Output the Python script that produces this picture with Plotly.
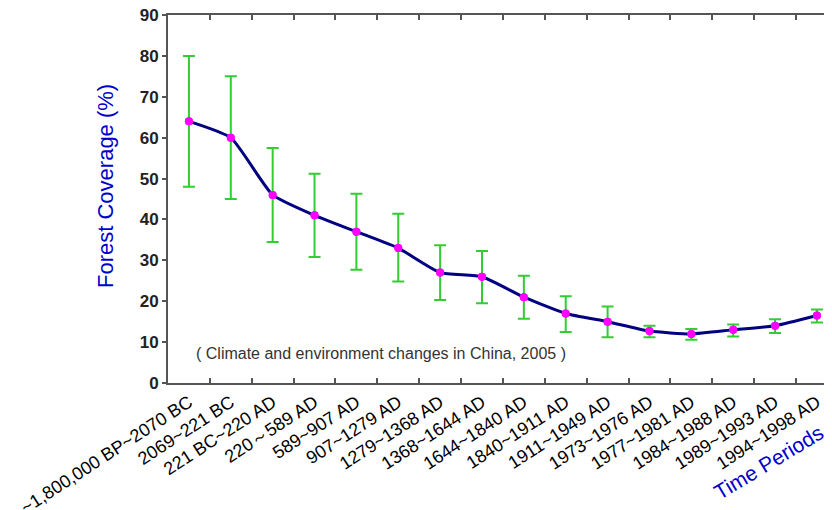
import plotly.graph_objects as go

periods = ["~1,800,000 BP~2070 BC", "2069~221 BC", "221 BC~220 AD", "220～589 AD",
           "589~907 AD", "907~1279 AD", "1279~1368 AD", "1368~1644 AD", "1644~1840 AD",
           "1840~1911 AD", "1911~1949 AD", "1973~1976 AD", "1977~1981 AD",
           "1984~1988 AD", "1989~1993 AD", "1994~1998 AD"]
coverage = [64, 60, 46, 41, 37, 33, 27, 26, 21, 17, 15, 12.7, 12, 13, 14, 16.5]
upper = [80, 75, 57.5, 51.2, 46.3, 41.4, 33.7, 32.3, 26.2, 21.2, 18.7, 14.0, 13.2, 14.3, 15.6, 18.0]
lower = [48, 45, 34.5, 30.8, 27.7, 24.8, 20.3, 19.5, 15.7, 12.5, 11.2, 11.2, 10.6, 11.4, 12.2, 14.8]

err_plus = [u - v for u, v in zip(upper, coverage)]
err_minus = [v - l for v, l in zip(coverage, lower)]
xs = list(range(len(periods)))

# page body has an 8px margin; figure is placed at (8, 8)
OFF = 8
W, H = 832 - OFF, 510 - OFF
L, T, B = 168 - OFF, 15 - OFF, 510 - 383
PW = W - L
PH = H - T - B

fig = go.Figure()
fig.add_trace(go.Scatter(
    x=xs, y=coverage, mode="lines",
    line=dict(color="#000080", width=3, shape="spline", smoothing=0.5),
    hoverinfo="skip", showlegend=False))
fig.add_trace(go.Scatter(
    x=xs, y=coverage, mode="markers",
    marker=dict(color="#FF00FF", size=8),
    error_y=dict(type="data", symmetric=False, array=err_plus, arrayminus=err_minus,
                 color="#33CC33", thickness=2, width=6),
    showlegend=False))
fig.add_trace(go.Scatter(
    x=xs, y=coverage, mode="markers",
    marker=dict(color="#FF00FF", size=8), showlegend=False))
fig.add_trace(go.Scatter(x=[None], y=[None], xaxis="x2", showlegend=False))

fig.update_layout(
    width=W, height=H,
    margin=dict(l=L, r=0, t=T, b=B, autoexpand=False),
    paper_bgcolor="white", plot_bgcolor="white",
    font=dict(family="Arial, Liberation Sans, sans-serif", color="black"),
    xaxis=dict(
        range=[-0.5, 15.36], tickmode="array", tickvals=xs, ticktext=periods,
        tickangle=-33, tickfont=dict(size=18, color="black"),
        showgrid=False, zeroline=False, ticklabeloverflow="allow",
        showline=True, linecolor="#555555", linewidth=2, mirror=True,
        ticks="", fixedrange=True, automargin=False),
    xaxis2=dict(
        overlaying="x", range=[-0.5, 15.36], tickmode="array",
        tickvals=[i + 0.5 for i in xs], showticklabels=False,
        ticks="inside", ticklen=5, tickwidth=2, tickcolor="#555555",
        side="bottom", mirror="ticks", showline=True,
        linecolor="#555555", linewidth=2,
        showgrid=False, zeroline=False, anchor="y"),
    yaxis=dict(
        range=[0, 90], tickmode="array", tickvals=[0, 10, 20, 30, 40, 50, 60, 70, 80, 90],
        ticks="outside", ticklen=4, tickwidth=1.5,
        tickcolor="#555555", ticklabeloverflow="allow",
        tickfont=dict(size=17, color="#222222", weight="bold"),
        showgrid=False, zeroline=False, automargin=False,
        showline=True, linecolor="#555555", linewidth=2),
    annotations=[
        dict(text="Forest Coverage (%)", textangle=-90,
             x=(105 - 168) / PW, y=(383 - 186) / PH, xref="paper", yref="paper",
             showarrow=False, xanchor="center", yanchor="middle",
             font=dict(size=22, color="#0000CC")),
        dict(text="( Climate and environment changes in China, 2005 )",
             x=(194 - 168) / PW, y=(383 - 353) / PH, xref="paper", yref="paper",
             showarrow=False, xanchor="left", yanchor="middle",
             font=dict(size=16, color="#333333")),
        dict(text="Time Periods", textangle=-31,
             x=(768 - 168) / PW, y=(383 - 462) / PH, xref="paper", yref="paper",
             showarrow=False, xanchor="center", yanchor="middle",
             font=dict(size=21, color="#0000CC")),
    ],
)
fig.write_html("out.html")
